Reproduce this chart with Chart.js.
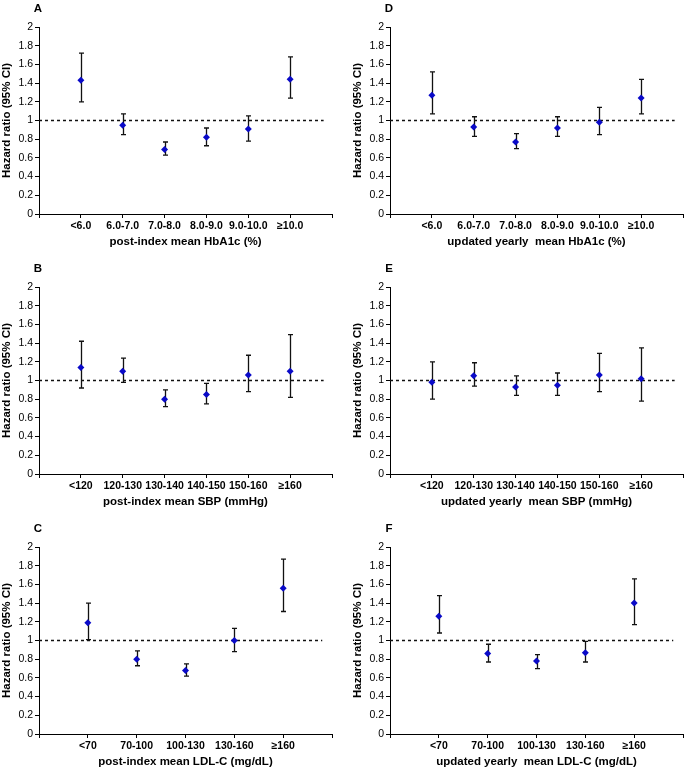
<!DOCTYPE html>
<html>
<head>
<meta charset="utf-8">
<script src="https://cdn.jsdelivr.net/npm/chart.js@4.4.1/dist/chart.umd.min.js"></script>
<style>
  html, body { margin:0; padding:0; background:#fff; width:687px; height:771px; overflow:hidden; }
  canvas { position:absolute; }
</style>
</head>
<body>
<canvas id="pA" width="336" height="257" style="left:0;top:0"></canvas>
<canvas id="pD" width="336" height="257" style="left:351px;top:0"></canvas>
<canvas id="pB" width="336" height="257" style="left:0;top:260px"></canvas>
<canvas id="pE" width="336" height="257" style="left:351px;top:260px"></canvas>
<canvas id="pC" width="336" height="257" style="left:0;top:520px"></canvas>
<canvas id="pF" width="336" height="257" style="left:351px;top:520px"></canvas>
<script>
// ---- data ----
const hba1cCats = ['<6.0', '6.0-7.0', '7.0-8.0', '8.0-9.0', '9.0-10.0', '≥10.0'];
const sbpCats   = ['<120', '120-130', '130-140', '140-150', '150-160', '≥160'];
const ldlCats   = ['<70', '70-100', '100-130', '130-160', '≥160'];

// A: post-index mean HbA1c
const postHba1cHR = [1.43, 0.95, 0.69, 0.82, 0.91, 1.44];
const postHba1cLo = [1.20, 0.85, 0.63, 0.73, 0.78, 1.24];
const postHba1cHi = [1.72, 1.07, 0.77, 0.92, 1.05, 1.68];
// D: updated yearly mean HbA1c
const yrHba1cHR = [1.27, 0.93, 0.77, 0.92, 0.98, 1.24];
const yrHba1cLo = [1.07, 0.83, 0.70, 0.83, 0.85, 1.07];
const yrHba1cHi = [1.52, 1.04, 0.86, 1.04, 1.14, 1.44];
// B: post-index mean SBP
const postSbpHR = [1.14, 1.10, 0.80, 0.85, 1.06, 1.10];
const postSbpLo = [0.92, 0.98, 0.72, 0.75, 0.88, 0.82];
const postSbpHi = [1.42, 1.24, 0.90, 0.97, 1.27, 1.49];
// E: updated yearly mean SBP
const yrSbpHR = [0.98, 1.05, 0.93, 0.95, 1.06, 1.02];
const yrSbpLo = [0.80, 0.94, 0.84, 0.84, 0.88, 0.78];
const yrSbpHi = [1.20, 1.19, 1.05, 1.08, 1.29, 1.35];
// C: post-index mean LDL-C
const postLdlHR = [1.19, 0.80, 0.68, 1.00, 1.56];
const postLdlLo = [1.01, 0.73, 0.62, 0.88, 1.31];
const postLdlHi = [1.40, 0.89, 0.75, 1.13, 1.87];
// F: updated yearly mean LDL-C
const yrLdlHR = [1.26, 0.86, 0.78, 0.87, 1.40];
const yrLdlLo = [1.08, 0.77, 0.70, 0.77, 1.17];
const yrLdlHi = [1.48, 0.96, 0.85, 0.99, 1.66];

const yTicksMin = 0, yTicksMax = 2, yStep = 0.2;
const refValue = 1;

const FONT = '"Liberation Sans", Arial, sans-serif';

// error bars with caps, drawn under the markers
const errorBars = {
  id: 'errorBars',
  beforeDatasetsDraw(chart, args, opts) {
    const { ctx, scales: { x, y } } = chart;
    ctx.save();
    ctx.strokeStyle = '#111';
    ctx.lineWidth = 1.3;
    opts.lo.forEach((lo, i) => {
      const px = Math.round(x.getPixelForValue(i + 1)) + 0.5;
      const yl = y.getPixelForValue(lo), yh = y.getPixelForValue(opts.hi[i]);
      ctx.beginPath();
      ctx.moveTo(px, yl); ctx.lineTo(px, yh);
      ctx.moveTo(px - 2.5, yl); ctx.lineTo(px + 2.5, yl);
      ctx.moveTo(px - 2.5, yh); ctx.lineTo(px + 2.5, yh);
      ctx.stroke();
    });
    ctx.restore();
  }
};

// panel letter above the y axis
const panelLetter = {
  id: 'panelLetter',
  afterDraw(chart, args, opts) {
    const { ctx, chartArea } = chart;
    ctx.save();
    ctx.font = 'bold 11.5px ' + FONT;
    ctx.fillStyle = '#000';
    ctx.textAlign = 'center';
    ctx.textBaseline = 'middle';
    ctx.fillText(opts.letter, chartArea.left - 1, chartArea.top - 18);
    ctx.restore();
  }
};

function drawPanel(id, letter, cats, hr, lo, hi, xTitle) {
  const xMax = cats.length + 1;
  new Chart(document.getElementById(id), {
    type: 'scatter',
    data: {
      datasets: [
        { type: 'line', data: [{ x: 0, y: refValue }, { x: xMax - 0.2, y: refValue }],
          borderColor: '#111', borderWidth: 1.3, borderDash: [3, 3], pointRadius: 0, order: 2 },
        { data: hr.map((v, i) => ({ x: i + 1, y: v })),
          pointStyle: 'rectRot', pointRadius: 3.5, backgroundColor: '#0a0ac8',
          borderColor: '#0a0ac8', borderWidth: 0, order: 1 },
      ],
    },
    options: {
      responsive: false, animation: false,
      layout: { padding: { top: 27, right: 4, left: 0, bottom: 0 } },
      plugins: {
        legend: { display: false }, tooltip: { enabled: false },
        errorBars: { lo, hi },
        panelLetter: { letter },
      },
      scales: {
        x: {
          type: 'linear', min: 0, max: xMax,
          afterFit: s => { s.height = 43; },
          border: { display: true, color: '#000', width: 1 },
          grid: { drawOnChartArea: false, drawTicks: true, tickLength: 4, color: '#000' },
          ticks: {
            stepSize: 1, autoSkip: false, maxRotation: 0, padding: 2, color: '#000',
            font: { family: FONT, size: 10.5, weight: 'bold' },
            callback: v => (v >= 1 && v <= cats.length ? cats[v - 1] : ''),
          },
          title: { display: true, text: xTitle, color: '#000', padding: { top: 0, bottom: 8 },
                   font: { family: FONT, size: 11.5, weight: 'bold' } },
        },
        y: {
          min: yTicksMin, max: yTicksMax,
          afterFit: s => { s.width = 39; },
          border: { display: true, color: '#000', width: 1 },
          grid: { drawOnChartArea: false, drawTicks: true, tickLength: 4, color: '#000' },
          ticks: {
            stepSize: yStep, padding: 2, color: '#000',
            font: { family: FONT, size: 10.5 },
            callback: v => String(+v.toFixed(1)),
          },
          title: { display: true, text: 'Hazard ratio (95% CI)', color: '#000', padding: { top: 0, bottom: 0 },
                   font: { family: FONT, size: 11.5, weight: 'bold' } },
        },
      },
    },
    plugins: [errorBars, panelLetter],
  });
}

drawPanel('pA', 'A', hba1cCats, postHba1cHR, postHba1cLo, postHba1cHi, 'post-index mean HbA1c (%)');
drawPanel('pD', 'D', hba1cCats, yrHba1cHR, yrHba1cLo, yrHba1cHi, 'updated yearly  mean HbA1c (%)');
drawPanel('pB', 'B', sbpCats, postSbpHR, postSbpLo, postSbpHi, 'post-index mean SBP (mmHg)');
drawPanel('pE', 'E', sbpCats, yrSbpHR, yrSbpLo, yrSbpHi, 'updated yearly  mean SBP (mmHg)');
drawPanel('pC', 'C', ldlCats, postLdlHR, postLdlLo, postLdlHi, 'post-index mean LDL-C (mg/dL)');
drawPanel('pF', 'F', ldlCats, yrLdlHR, yrLdlLo, yrLdlHi, 'updated yearly  mean LDL-C (mg/dL)');
</script>
</body>
</html>
